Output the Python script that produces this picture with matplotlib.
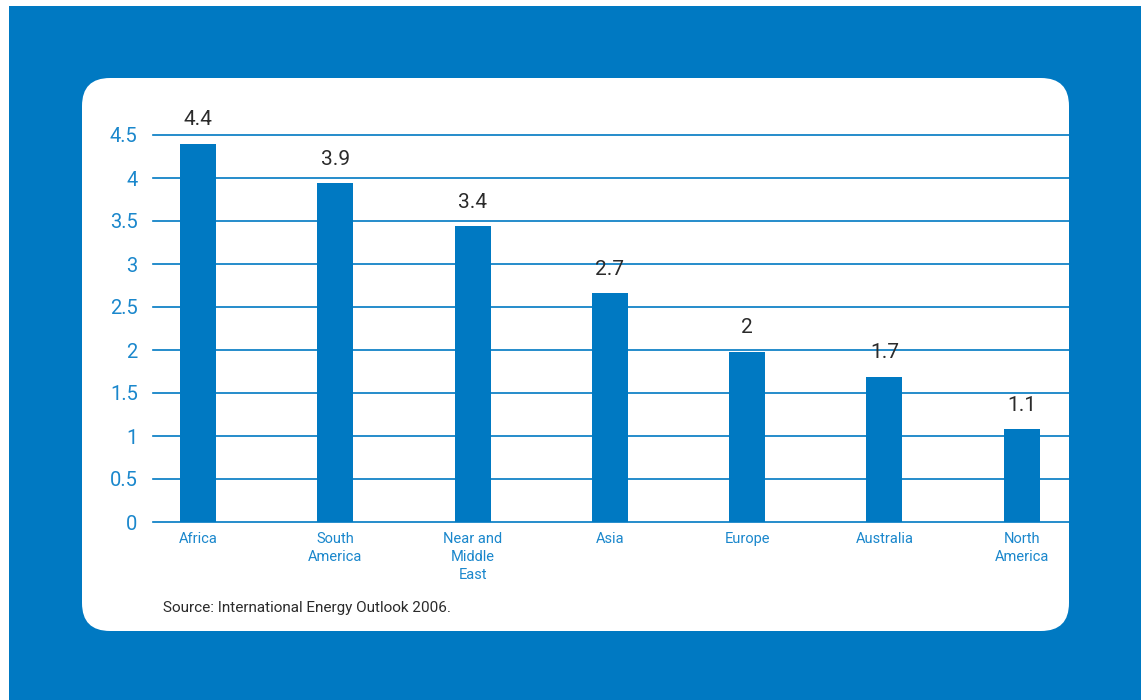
import matplotlib.pyplot as plt
from matplotlib.patches import FancyBboxPatch, Rectangle
from matplotlib.transforms import IdentityTransform

# data
regions = ['Africa', 'South\nAmerica', 'Near and\nMiddle\nEast', 'Asia', 'Europe', 'Australia', 'North\nAmerica']
values = [4.4, 3.94, 3.44, 2.66, 1.98, 1.69, 1.08]
value_labels = ['4.4', '3.9', '3.4', '2.7', '2', '1.7', '1.1']
yticks = [0, 0.5, 1, 1.5, 2, 2.5, 3, 3.5, 4, 4.5]
ytick_labels = ['0', '0.5', '1', '1.5', '2', '2.5', '3', '3.5', '4', '4.5']

blue = '#0079c2'
tick_blue = '#1a87cc'
plt.rcParams['font.family'] = ['Roboto', 'DejaVu Sans']

W, H = 1145, 700
fig = plt.figure(figsize=(W / 100, H / 100), dpi=100, facecolor='white')

# blue frame and white rounded card (pixel coordinates)
fig.patches.append(Rectangle((9, 0), 1132, 694, transform=IdentityTransform(),
                             facecolor=blue, edgecolor='none', zorder=0))
fig.patches.append(FancyBboxPatch((82, 69), 987, 553, boxstyle='round,pad=0,rounding_size=28',
                                  transform=IdentityTransform(), facecolor='white',
                                  edgecolor='none', zorder=1))

ax = fig.add_axes([153 / W, (H - 522) / H, (1069 - 153) / W, (522 - 135) / H])
ax.set_facecolor('none')
ax.set_zorder(2)

x = list(range(len(regions)))
ax.bar(x, values, width=0.262, color=blue, zorder=3)
for yv in yticks:
    ax.axhline(yv, color=blue, lw=1.2, zorder=2, clip_on=False)

for xi, v, lab in zip(x, values, value_labels):
    ax.annotate(lab, (xi, v), xytext=(0, 10.5), textcoords='offset points',
                ha='center', va='bottom', fontsize=15, color='#2b2b2b')

ax.set_xlim(-0.328, 6.344)
ax.set_ylim(0, 4.5)
ax.set_yticks(yticks)
ax.set_yticklabels(ytick_labels, fontsize=14.5, color=tick_blue)
ax.set_xticks(x)
ax.set_xticklabels(regions, fontsize=10.5, color=tick_blue, linespacing=1.38,
                   va='top')
ax.tick_params(axis='y', length=0, pad=11)
ax.tick_params(axis='x', length=0, pad=7)
for s in ax.spines.values():
    s.set_visible(False)

fig.text(163 / W, (H - 608) / H, 'Source: International Energy Outlook 2006.',
         fontsize=11, color='#2b2b2b', va='center', ha='left', zorder=5)

fig.savefig('out.png', dpi=100)
